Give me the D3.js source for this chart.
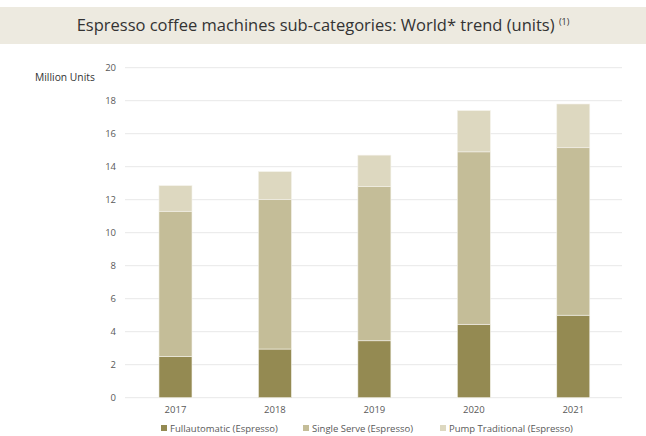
<!DOCTYPE html>
<html>
<head>
<meta charset="utf-8">
<script src="https://cdn.jsdelivr.net/npm/d3@7"></script>
<style>
  body { margin: 0; background: #fff; }
</style>
</head>
<body>
<svg id="chart"></svg>
<script>
const years = ["2017", "2018", "2019", "2020", "2021"];
const seriesNames = ["Fullautomatic (Espresso)", "Single Serve (Espresso)", "Pump Traditional (Espresso)"];
const fullautomatic = [2.5, 2.95, 3.45, 4.45, 5.0];
const singleServe = [8.8, 9.05, 9.35, 10.45, 10.15];
const pumpTraditional = [1.55, 1.7, 1.9, 2.5, 2.65];
const yTicks = [0, 2, 4, 6, 8, 10, 12, 14, 16, 18, 20];

const colors = ["#948a52", "#c4bd98", "#ddd8c0"];

const width = 646;
const height = 436;

const svg = d3.select("#chart")
    .attr("width", width)
    .attr("height", height);

// title band
svg.append("rect")
    .attr("x", 0).attr("y", 7)
    .attr("width", width).attr("height", 37)
    .attr("fill", "#edeae0");

const title = svg.append("text")
    .attr("x", width / 2).attr("y", 31)
    .attr("text-anchor", "middle")
    .attr("font-family", "'Open Sans', sans-serif")
    .attr("font-size", "16.5px")
    .attr("fill", "#333");
title.append("tspan").text("Espresso coffee machines sub-categories: World* trend (units) ");
title.append("tspan").attr("font-size", "9px").attr("dy", -6).text("(1)");

const x = d3.scaleBand().domain(years).range([125.75, 623])
    .paddingInner(0.668).paddingOuter(0.334);
const y = d3.scaleLinear().domain([0, 20]).range([397.7, 67.7]);

// grid
svg.append("g")
    .selectAll("line")
    .data(yTicks)
    .enter().append("line")
    .attr("x1", 125).attr("x2", 622)
    .attr("y1", d => y(d)).attr("y2", d => y(d))
    .attr("stroke", "#e8e8e8")
    .attr("stroke-width", 1);

const yAxis = svg.append("g")
    .attr("transform", "translate(116,0)")
    .call(d3.axisLeft(y).tickValues(yTicks).tickSize(0).tickPadding(0));
yAxis.select(".domain").remove();
yAxis.selectAll("text")
    .attr("font-family", "'Open Sans', sans-serif")
    .attr("font-size", "9.5px")
    .attr("fill", "#595959");

svg.append("text")
    .attr("x", 35).attr("y", 81)
    .attr("font-family", "'Open Sans', sans-serif")
    .attr("font-size", "10.3px")
    .attr("fill", "#333")
    .text("Million Units");

const table = years.map((yr, i) => ({
    year: yr,
    [seriesNames[0]]: fullautomatic[i],
    [seriesNames[1]]: singleServe[i],
    [seriesNames[2]]: pumpTraditional[i]
}));
const stacked = d3.stack().keys(seriesNames)(table);

svg.append("g")
    .selectAll("g")
    .data(stacked)
    .enter().append("g")
    .attr("fill", (d, i) => colors[i])
    .selectAll("rect")
    .data(d => d)
    .enter().append("rect")
    .attr("x", d => x(d.data.year))
    .attr("width", x.bandwidth())
    .attr("y", d => y(d[1]))
    .attr("height", d => y(d[0]) - y(d[1]))
    .attr("stroke", "#f4f2ea")
    .attr("stroke-width", 0.6);

const xAxis = svg.append("g")
    .attr("transform", "translate(0,398)")
    .call(d3.axisBottom(x).tickSize(0).tickPadding(8));
xAxis.select(".domain").remove();
xAxis.selectAll("text")
    .attr("font-family", "'Open Sans', sans-serif")
    .attr("font-size", "9.5px")
    .attr("fill", "#595959");

// legend
const legendX = [161, 303, 440];
const legend = svg.append("g")
    .selectAll("g")
    .data(seriesNames)
    .enter().append("g")
    .attr("transform", (d, i) => `translate(${legendX[i]},425)`);
legend.append("rect")
    .attr("width", 6).attr("height", 6)
    .attr("fill", (d, i) => colors[i]);
legend.append("text")
    .attr("x", 9).attr("y", 6.5)
    .attr("font-family", "'Open Sans', sans-serif")
    .attr("font-size", "9.5px")
    .attr("fill", "#595959")
    .text(d => d);
</script>
</body>
</html>
